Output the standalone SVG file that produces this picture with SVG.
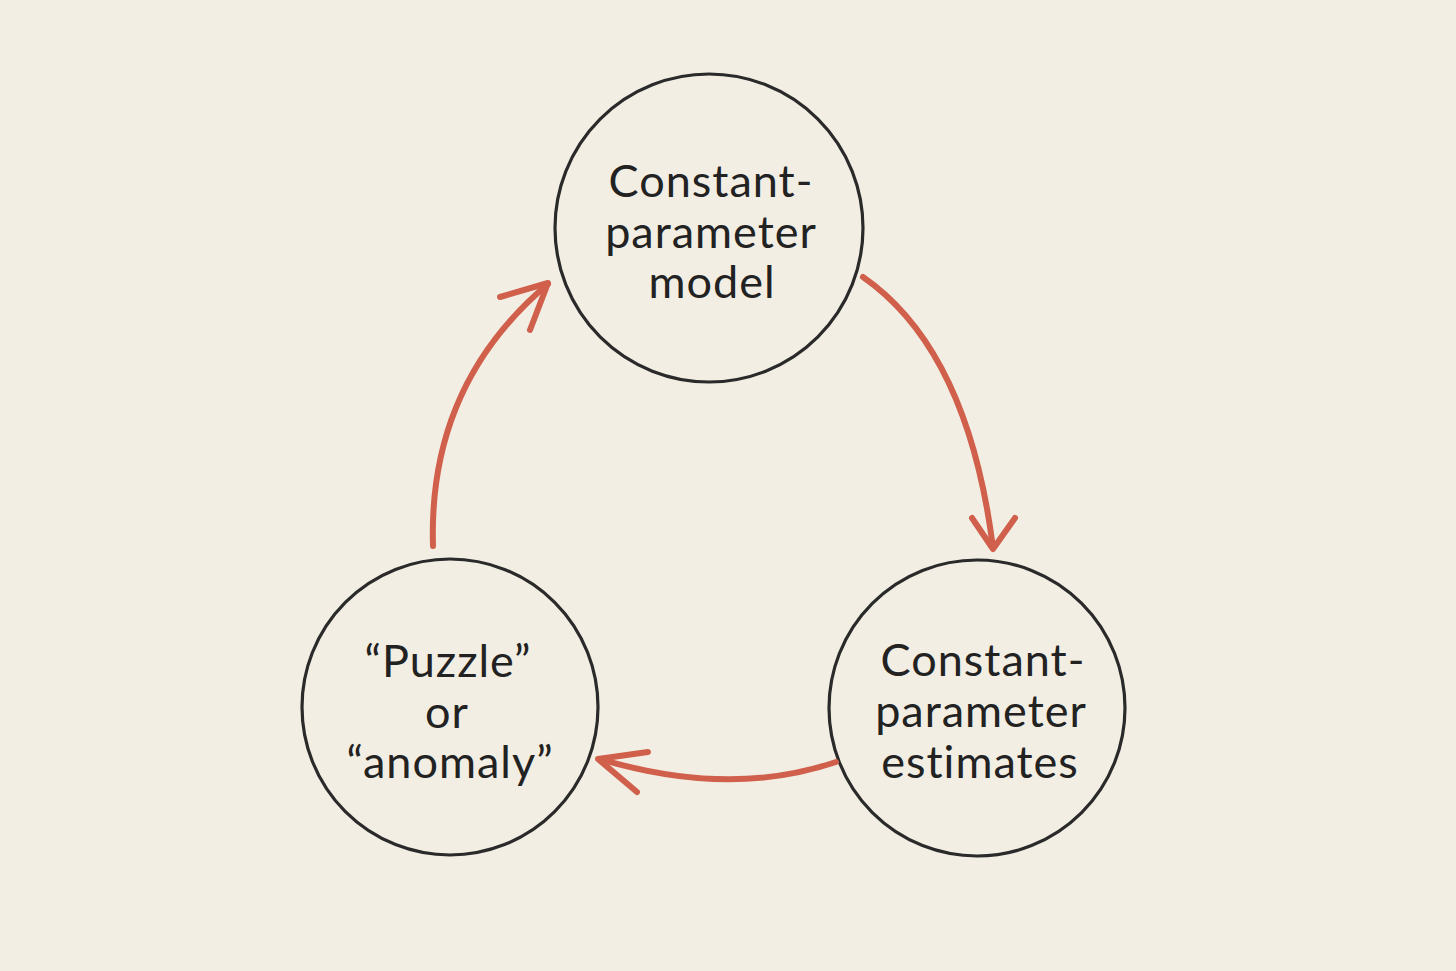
<svg xmlns="http://www.w3.org/2000/svg" width="1456" height="971" viewBox="0 0 1456 971">
<style>
.node{fill:none;stroke:#2a2a2a;stroke-width:3.2}
.lbl{font-family:Lato,"Noto Sans","Liberation Sans",sans-serif;font-size:45px;fill:#222;text-anchor:middle;letter-spacing:1px;font-variant-ligatures:none}
.arr{fill:none;stroke:#d0604c;stroke-width:6;stroke-linecap:round;stroke-linejoin:round}
</style>
<rect width="1456" height="971" fill="#f2eee3"/>
<g id="node-model">
<circle class="node" cx="709" cy="228" r="154"/>
<text class="lbl" x="711" y="197">Constant-</text>
<text class="lbl" x="711" y="248">parameter</text>
<text class="lbl" x="712" y="298">model</text>
</g>
<g id="node-estimates">
<circle class="node" cx="977" cy="708" r="148"/>
<text class="lbl" x="983" y="676">Constant-</text>
<text class="lbl" x="981" y="727">parameter</text>
<text class="lbl" x="980" y="778">estimates</text>
</g>
<g id="node-puzzle">
<circle class="node" cx="450" cy="707" r="148"/>
<text class="lbl" x="448" y="677">“Puzzle”</text>
<text class="lbl" x="447" y="728">or</text>
<text class="lbl" x="450" y="778">“anomaly”</text>
</g>
<g id="connectors">
<path class="arr" d="M863,277 Q968,350 993,548"/>
<path class="arr" d="M972,518 L993,549 L1015,518"/>
<path class="arr" d="M836,762 Q730,798 600,759"/>
<path class="arr" d="M648,752 L598,759 L637,792"/>
<path class="arr" d="M433,546 Q428,385 548,284"/>
<path class="arr" d="M500,297 L548,283 L530,330"/>
</g>
</svg>
